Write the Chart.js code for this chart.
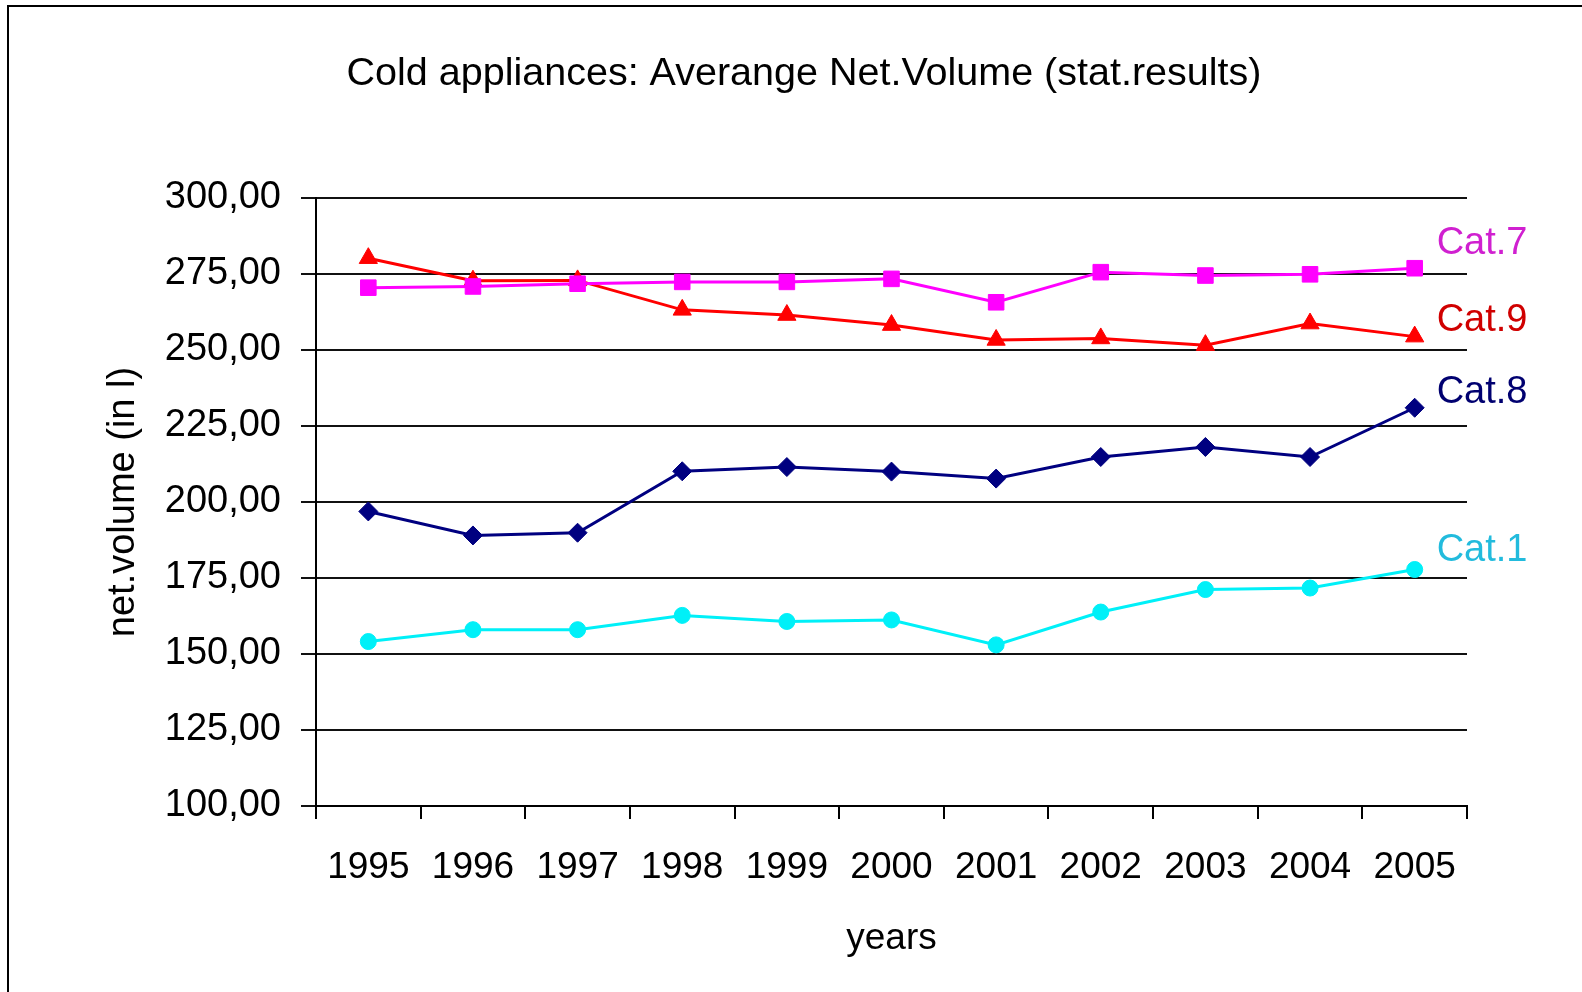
<!DOCTYPE html>
<html>
<head>
<meta charset="utf-8">
<script src="https://cdn.jsdelivr.net/npm/chart.js@4/dist/chart.umd.min.js"></script>
<style>
  html, body { margin: 0; padding: 0; background: #fff; }
  canvas { display: block; }
</style>
</head>
<body>
<canvas id="c" width="1582" height="992"></canvas>
<script>
// ---- data ----
const years = ['1995','1996','1997','1998','1999','2000','2001','2002','2003','2004','2005'];
const seriesNames = ['Cat.7', 'Cat.9', 'Cat.8', 'Cat.1'];
const cat7 = [270.5, 270.9, 271.8, 272.4, 272.4, 273.4, 265.7, 275.6, 274.5, 274.9, 276.9];
const cat9 = [280.2, 272.8, 272.9, 263.2, 261.5, 258.2, 253.3, 253.8, 251.6, 258.7, 254.4];
const cat8 = [196.9, 189.0, 189.9, 210.1, 211.5, 210.0, 207.7, 214.8, 218.1, 214.8, 231.0];
const cat1 = [154.1, 158.0, 158.0, 162.7, 160.7, 161.2, 153.0, 163.8, 171.2, 171.7, 177.8];
const yTickValues = [100, 125, 150, 175, 200, 225, 250, 275, 300];
const yTickLabels = ['100,00','125,00','150,00','175,00','200,00','225,00','250,00','275,00','300,00'];
const chartTitle = 'Cold appliances: Averange Net.Volume (stat.results)';
const xTitle = 'years';
const yTitle = 'net.volume (in l)';

const FONT = "'Liberation Sans', Arial, Helvetica, sans-serif";
Chart.defaults.font.family = FONT;
Chart.defaults.color = '#000';

// frame + title
const framePlugin = {
  id: 'frame',
  beforeDraw(chart) {
    const ctx = chart.ctx;
    ctx.save();
    ctx.fillStyle = '#fff';
    ctx.fillRect(0, 0, chart.width, chart.height);
    ctx.strokeStyle = '#000';
    ctx.lineWidth = 2;
    ctx.beginPath();
    ctx.moveTo(8, chart.height);
    ctx.lineTo(8, 6);
    ctx.lineTo(chart.width, 6);
    ctx.stroke();
    ctx.restore();
  },
  afterDraw(chart) {
    const ctx = chart.ctx;
    ctx.save();
    ctx.font = '39.5px ' + FONT;
    ctx.fillStyle = '#000';
    ctx.textAlign = 'center';
    ctx.textBaseline = 'middle';
    ctx.fillText(chartTitle, 804, 74);
    ctx.restore();
  }
};

// end-of-line series labels
const endLabelPlugin = {
  id: 'endLabels',
  afterDatasetsDraw(chart) {
    const ctx = chart.ctx;
    ctx.save();
    ctx.font = '38px ' + FONT;
    ctx.textAlign = 'left';
    ctx.textBaseline = 'middle';
    chart.data.datasets.forEach((ds, i) => {
      const meta = chart.getDatasetMeta(i);
      const pt = meta.data[meta.data.length - 1];
      ctx.fillStyle = ds.labelColor;
      ctx.fillText(ds.label, pt.x + 22, pt.y + ds.labelDy);
    });
    ctx.restore();
  }
};

new Chart(document.getElementById('c'), {
  type: 'line',
  data: {
    labels: years,
    datasets: [
      { label: seriesNames[0], data: cat7, borderColor: '#FF00FF', backgroundColor: '#FF00FF',
        pointStyle: 'rect', pointRadius: 11, pointBorderWidth: 1, labelColor: '#D020D0', labelDy: -25 },
      { label: seriesNames[1], data: cat9, borderColor: '#FF0000', backgroundColor: '#FF0000',
        pointStyle: 'triangle', pointRadius: 10.5, pointBorderWidth: 1, labelColor: '#D00000', labelDy: -16 },
      { label: seriesNames[2], data: cat8, borderColor: '#000080', backgroundColor: '#000080',
        pointStyle: 'rectRot', pointRadius: 9.5, pointBorderWidth: 1, labelColor: '#000070', labelDy: -15 },
      { label: seriesNames[3], data: cat1, borderColor: '#00F0F8', backgroundColor: '#00F0F8',
        pointStyle: 'circle', pointRadius: 8, pointBorderWidth: 1, labelColor: '#22BBDD', labelDy: -19 }
    ].map(d => Object.assign({ borderWidth: 3, tension: 0, fill: false, pointHoverRadius: d.pointRadius }, d))
  },
  options: {
    responsive: false,
    animation: false,
    devicePixelRatio: 1,
    layout: { padding: { left: 0, right: 115, top: 198, bottom: 0 } },
    plugins: {
      legend: { display: false },
      title: { display: false },
      tooltip: { enabled: false }
    },
    scales: {
      x: {
        offset: true,
        afterFit(scale) { scale.height = 186; },
        grid: { display: true, drawOnChartArea: false, drawTicks: true, tickLength: 13, offset: true, color: '#000', lineWidth: 2 },
        border: { display: true, color: '#000', width: 2 },
        ticks: { font: { size: 37 }, padding: 27, color: '#000', maxRotation: 0, autoSkip: false },
        title: { display: true, text: xTitle, font: { size: 37 }, color: '#000', padding: { top: 0, bottom: 31 } }
      },
      y: {
        min: 100, max: 300,
        afterFit(scale) { scale.width = 316; },
        afterBuildTicks(scale) { scale.ticks = yTickValues.map(v => ({ value: v })); },
        grid: { display: true, drawTicks: true, tickLength: 15, color: '#111', lineWidth: 2 },
        border: { display: true, color: '#000', width: 2 },
        ticks: {
          font: { size: 38 }, padding: 20, color: '#000',
          callback(value) { const i = yTickValues.indexOf(value); return i >= 0 ? yTickLabels[i] : ''; }
        },
        title: { display: true, text: yTitle, font: { size: 38 }, color: '#000', padding: { top: 101, bottom: 0 } }
      }
    }
  },
  plugins: [framePlugin, endLabelPlugin]
});
</script>
</body>
</html>
